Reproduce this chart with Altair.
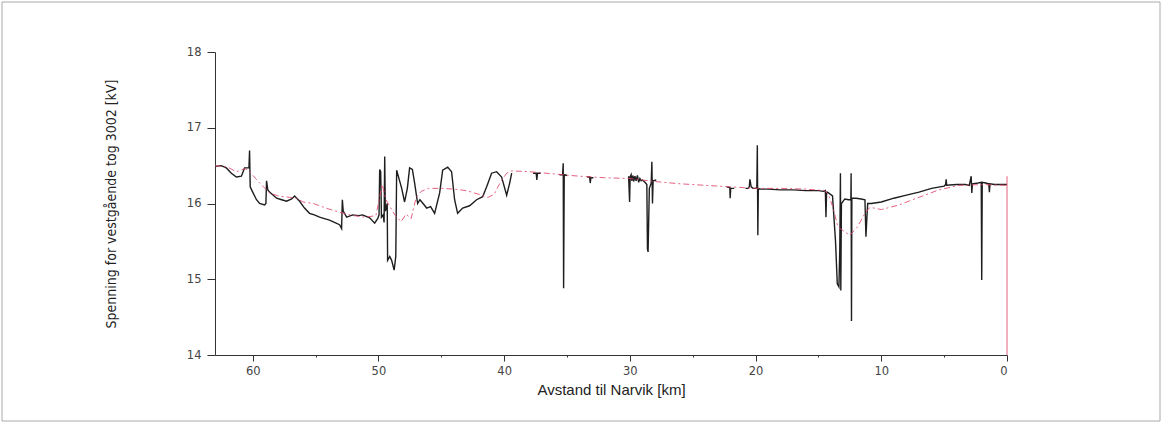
import altair as alt
import pandas as pd

# ---- measured voltage (black), split in segments where the trace has gaps ----
seg1_km = [63.0, 62.5, 62.1, 61.7, 61.3, 60.9, 60.65, 60.3, 60.25, 60.2, 60.0, 59.7, 59.45, 59.06,
           58.95, 58.9, 58.8, 58.66, 58.1, 57.7, 57.31, 56.9, 56.67, 56.27, 55.88, 55.48, 55.1, 54.68,
           54.3, 53.89, 53.5, 53.09, 52.93, 52.87, 52.8, 52.53, 52.05, 51.6, 51.26, 50.7, 50.3, 50.06,
           49.95, 49.9, 49.82, 49.76, 49.62, 49.55, 49.5, 49.45, 49.3, 49.27, 49.1, 48.95, 48.75, 48.62,
           48.55, 48.15, 47.92, 47.7, 47.52, 47.3, 47.12, 46.88, 46.7, 46.45, 46.16, 45.85, 45.53, 45.13,
           44.89, 44.49, 44.18, 43.94, 43.7, 43.3, 42.75, 42.19, 41.71, 41.39, 41.0, 40.6, 40.2, 39.8,
           39.56, 39.4]
seg1_kv = [16.49, 16.50, 16.47, 16.40, 16.35, 16.36, 16.47, 16.47, 16.70, 16.22, 16.15, 16.05, 16.00, 15.98,
           16.00, 16.30, 16.18, 16.15, 16.07, 16.05, 16.03, 16.06, 16.10, 16.03, 15.94, 15.87, 15.85, 15.82,
           15.80, 15.78, 15.75, 15.72, 15.67, 16.05, 15.90, 15.82, 15.85, 15.84, 15.85, 15.81, 15.74, 15.80,
           15.85, 16.45, 16.42, 15.82, 15.85, 15.75, 16.62, 15.90, 16.00, 15.25, 15.30, 15.25, 15.12, 15.30,
           16.44, 16.20, 16.02, 16.20, 16.47, 16.45, 16.27, 16.00, 16.05, 16.00, 15.94, 15.96, 15.87, 16.14,
           16.44, 16.48, 16.42, 16.05, 15.87, 15.94, 15.97, 16.05, 16.09, 16.22, 16.40, 16.42, 16.35, 16.11,
           16.27, 16.40]

seg2_km = [37.7, 37.45, 37.4, 37.35, 37.1]
seg2_kv = [16.40, 16.40, 16.31, 16.40, 16.40]

seg3_km = [35.6, 35.35, 35.3, 35.27, 35.22, 35.0]
seg3_kv = [16.38, 16.38, 16.53, 14.88, 16.38, 16.37]

seg4_km = [33.4, 33.2, 33.15, 33.1, 32.9]
seg4_kv = [16.35, 16.35, 16.27, 16.34, 16.34]

seg5_km = [30.1, 30.02, 29.98, 29.9, 29.85, 29.75, 29.7, 29.6, 29.5, 29.4, 29.3, 29.2, 29.1, 29.0,
           28.8, 28.65, 28.6, 28.55, 28.45, 28.3, 28.25, 28.2, 28.15, 27.9]
seg5_kv = [16.36, 16.02, 16.35, 16.38, 16.30, 16.37, 16.29, 16.36, 16.30, 16.37, 16.28, 16.33, 16.30, 16.31,
           16.28, 16.25, 15.40, 15.36, 16.20, 16.27, 16.55, 16.00, 16.30, 16.31]

seg6_km = [22.3, 22.05, 22.02, 21.98, 21.7]
seg6_kv = [16.22, 16.21, 16.07, 16.20, 16.20]

seg7_km = [20.8, 20.6, 20.5, 20.45, 20.35, 20.2, 20.0, 19.9, 19.86, 19.82, 19.78, 19.6, 19.0, 18.0,
           17.0, 16.0, 15.0, 14.6, 14.45, 14.4, 14.35, 14.27, 13.88, 13.64, 13.5, 13.37, 13.3, 13.25,
           13.22, 13.17, 12.9, 12.6, 12.42, 12.4, 12.37, 12.34, 12.0, 11.6, 11.3, 11.22, 11.15, 11.08,
           10.8, 10.0, 9.0, 8.0, 7.0, 6.0, 5.0, 4.88, 4.84, 4.8, 4.0, 3.3, 3.0, 2.85, 2.8, 2.75, 2.3,
           2.05, 2.01, 1.97, 1.7, 1.45, 1.4, 1.35, 1.0, 0.5, 0.0]
seg7_kv = [16.20, 16.20, 16.22, 16.32, 16.22, 16.20, 16.20, 16.21, 16.77, 15.58, 16.20, 16.19, 16.19, 16.18,
           16.18, 16.17, 16.17, 16.16, 16.17, 15.82, 16.15, 16.15, 16.10, 15.50, 14.94, 14.90, 15.40, 16.40,
           14.85, 16.00, 16.06, 16.05, 16.05, 16.40, 14.45, 16.07, 16.07, 16.06, 16.05, 15.56, 15.80, 16.00,
           16.00, 16.02, 16.07, 16.11, 16.15, 16.20, 16.23, 16.25, 16.32, 16.24, 16.25, 16.25, 16.24, 16.36,
           16.14, 16.26, 16.27, 16.28, 14.99, 16.28, 16.27, 16.26, 16.15, 16.26, 16.25, 16.25, 16.25]

# ---- simulated voltage (red) ----
red_km = [63.0, 62.0, 61.3, 60.6, 60.25, 59.5, 58.66, 58.0, 57.0, 56.5, 56.0, 55.2, 54.0, 52.8, 52.0,
          51.0, 50.2, 49.7, 49.4, 48.7, 48.2, 47.8, 47.4, 47.0, 46.6, 46.0, 45.0, 44.0, 43.0, 42.0,
          41.3, 40.8, 40.3, 39.8, 39.4, 38.0, 36.0, 34.0, 32.0, 30.0, 28.0, 26.0, 24.0, 22.0, 20.0,
          18.0, 16.0, 14.5, 14.2, 13.85, 13.45, 12.5, 11.9, 11.3, 10.9, 10.0, 8.6, 7.2, 5.4, 3.8,
          2.0, 0.0]
red_kv = [16.50, 16.48, 16.42, 16.46, 16.42, 16.28, 16.14, 16.10, 16.08, 16.07, 16.02, 16.00, 15.93, 15.87, 15.84,
          15.82, 15.84, 16.25, 16.05, 15.85, 15.76, 15.86, 15.80, 16.08, 16.16, 16.20, 16.20, 16.19, 16.17, 16.12,
          16.08, 16.12, 16.28, 16.40, 16.43, 16.42, 16.39, 16.36, 16.34, 16.33, 16.29, 16.26, 16.24, 16.22, 16.20,
          16.20, 16.19, 16.17, 16.12, 15.95, 15.69, 15.58, 15.69, 15.87, 15.95, 15.92, 15.98, 16.07, 16.18, 16.24,
          16.25, 16.24]
# end of simulation: drop to the axis at Narvik
red_end_km = [0.0, 0.0]
red_end_kv = [16.36, 14.0]

x_ticks = [60, 55, 50, 45, 40, 35, 30, 25, 20, 15, 10, 5, 0]
y_ticks = [14, 14.5, 15, 15.5, 16, 16.5, 17, 17.5, 18]

# ---- build tables ----
rows = []
i = 0
for s, (ks, vs) in enumerate([(seg1_km, seg1_kv), (seg2_km, seg2_kv), (seg3_km, seg3_kv),
                              (seg4_km, seg4_kv), (seg5_km, seg5_kv), (seg6_km, seg6_kv),
                              (seg7_km, seg7_kv)]):
    assert len(ks) == len(vs)
    for k, v in zip(ks, vs):
        rows.append({"km": k, "kv": v, "seg": s, "i": i})
        i += 1
black_df = pd.DataFrame(rows)
assert len(red_km) == len(red_kv)
red_df = pd.DataFrame({"km": red_km, "kv": red_kv, "i": list(range(len(red_km)))})
red_end_df = pd.DataFrame({"km": red_end_km, "kv": red_end_kv, "i": [0, 1]})

label_font = "DejaVu Sans"

x_enc = alt.X(
    "km:Q",
    scale=alt.Scale(domain=[0, 63], reverse=True, nice=False, zero=False),
    axis=alt.Axis(
        title="Avstand til Narvik [km]",
        values=x_ticks,
        labelExpr="datum.value % 10 === 0 ? datum.label : ''",
        tickSize={"condition": {"test": "datum.value % 10 === 0", "value": 6}, "value": 2},
        labelPadding=4,
        labelFont=label_font, labelFontSize=11.5, labelColor="#444",
        titleFont="Liberation Sans", titleFontSize=15, titleColor="#222",
        titleFontWeight="normal", titlePadding=6,
        domainColor="#333", tickColor="#333", grid=False,
    ),
)
y_enc = alt.Y(
    "kv:Q",
    scale=alt.Scale(domain=[14, 18], nice=False, zero=False),
    axis=alt.Axis(
        title="Spenning for vestgående tog 3002 [kV]",
        values=y_ticks,
        labelExpr="datum.value % 1 === 0 ? format(datum.value, 'd') : ''",
        tickSize={"condition": {"test": "datum.value % 1 === 0", "value": 8}, "value": 4},
        labelPadding=6,
        labelFont=label_font, labelFontSize=11.5, labelColor="#444",
        titleFont="Liberation Sans Narrow, DejaVu Sans Condensed, Liberation Sans",
        titleFontSize=14, titleColor="#222", titleFontWeight="normal",
        titleX=-104, titleBaseline="middle",
        domainColor="#333", tickColor="#333", grid=False,
    ),
)

black = alt.Chart(black_df).mark_line(color="#1e1e1e", strokeWidth=1.4).encode(
    x=x_enc, y=y_enc, detail="seg:N", order="i:Q"
)
red = alt.Chart(red_df).mark_line(color="#e0456b", strokeWidth=1, strokeDash=[6, 3, 2, 3], opacity=0.85).encode(
    x="km:Q", y="kv:Q", order="i:Q"
)
red_end = alt.Chart(red_end_df).mark_line(color="#e0456b", strokeWidth=1, opacity=0.85).encode(
    x="km:Q", y="kv:Q", order="i:Q"
)
frame = alt.Chart(pd.DataFrame({"a": [0]})).mark_rect(
    fillOpacity=0, stroke="#aaaaaa", strokeWidth=1, clip=False
).encode(
    x=alt.value(-213), x2=alt.value(945), y=alt.value(-50), y2=alt.value(369)
)

chart = alt.layer(frame, black, red, red_end).properties(
    width=792, height=303,
    autosize=alt.AutoSizeParams(type="none"),
    padding={"left": 215, "top": 52, "right": 156, "bottom": 69},
    background="white",
).configure_view(strokeWidth=0)

chart.save("out.html", embed_options={"renderer": "svg", "actions": False})
